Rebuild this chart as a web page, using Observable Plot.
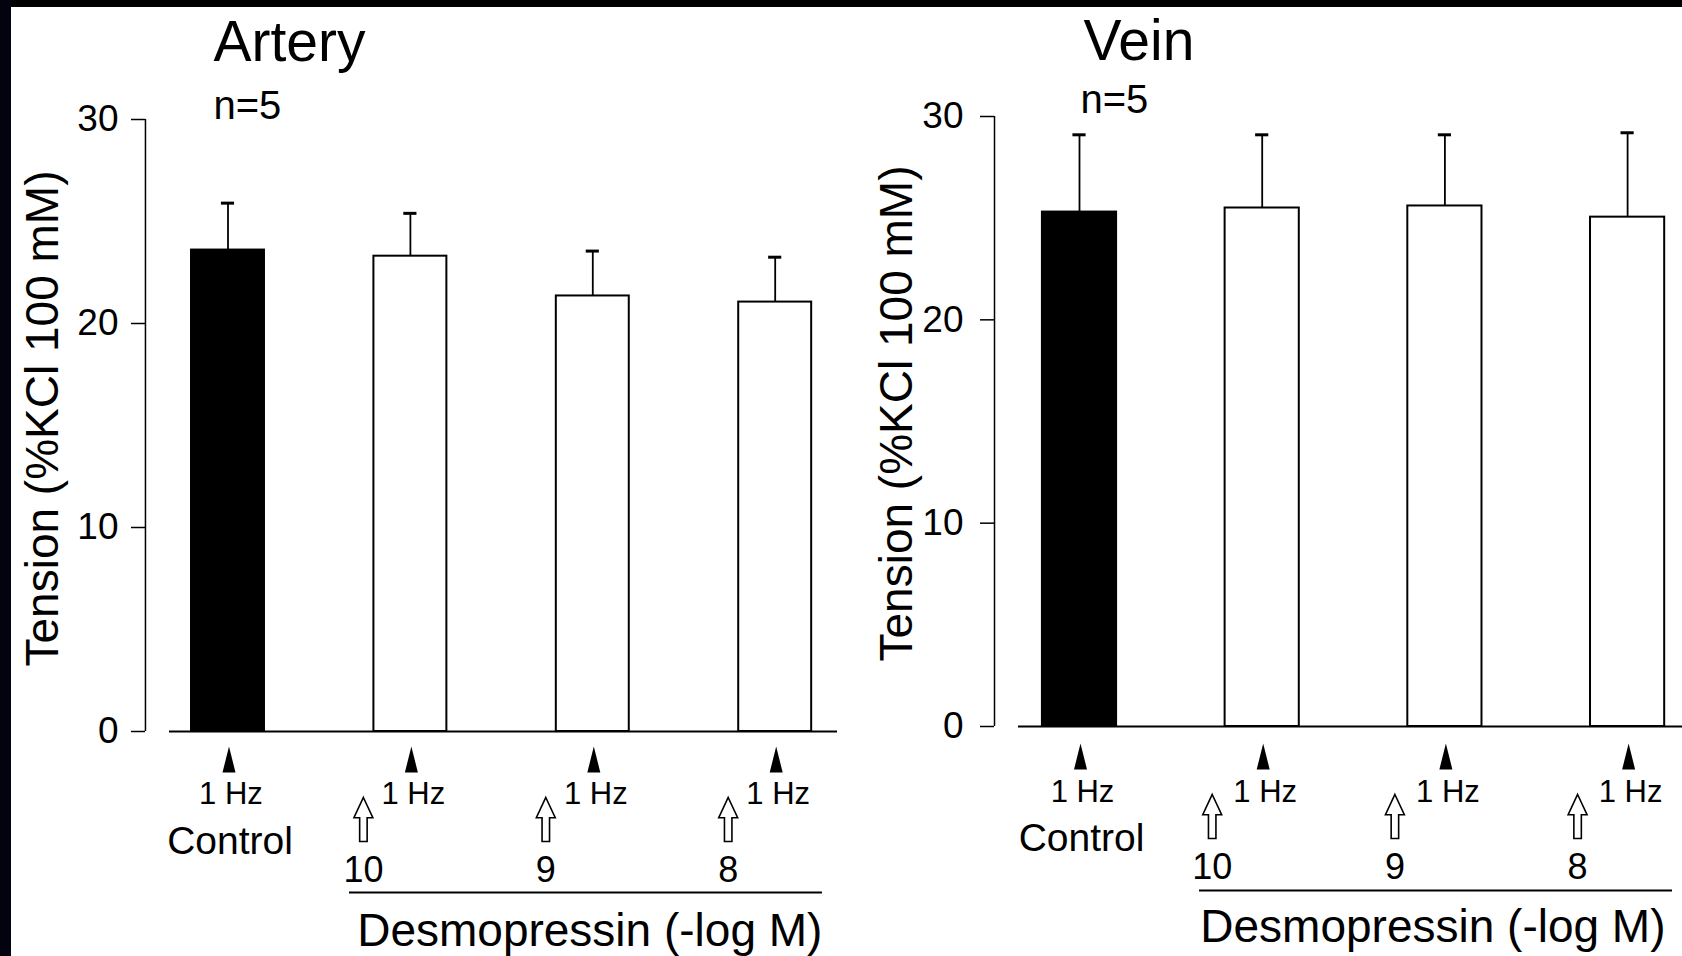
<!DOCTYPE html>
<html><head><meta charset="utf-8">
<script src="https://cdn.jsdelivr.net/npm/d3@7"></script>
<script src="https://cdn.jsdelivr.net/npm/@observablehq/plot@0.6"></script>
<style>
html,body{margin:0;padding:0;background:#fff;}
#wrap{position:relative;width:1682px;height:956px;overflow:hidden;background:#fff;}
#wrap .panel{position:absolute;top:0;}
.topbar{position:absolute;left:0;top:0;width:1682px;height:7px;background:#000;z-index:2}
.leftbar{position:absolute;left:0;top:0;width:11px;height:956px;background:#03030f;z-index:2}
</style></head><body>
<div id="wrap"><div class="topbar"></div><div class="leftbar"></div></div>
<script>
// ---- data ----
const categories = ["Control", "10", "9", "8"];
const arteryMean = [23.6, 23.3, 21.35, 21.05];
const arterySEM  = [2.3, 2.1, 2.2, 2.2];
const veinMean   = [25.3, 25.5, 25.6, 25.05];
const veinSEM    = [3.8, 3.6, 3.5, 4.15];
const yTicks = [0, 10, 20, 30];
const panelTitles = ["Artery", "Vein"];
const nLabel = "n=5";
const stimLabel = "1 Hz";
const drugLabel = "Desmopressin (-log M)";
const yLabel = "Tension (%KCl 100 mM)";

const FONT = "'Liberation Sans', Arial, Helvetica, sans-serif";

// narrow filled triangle (stimulation marker)
const triSym = {draw(ctx, size) {
  const r = Math.sqrt(size / Math.PI);
  ctx.moveTo(0, -r); ctx.lineTo(r * 0.5, r); ctx.lineTo(-r * 0.5, r); ctx.closePath();
}};
// hollow upward arrow (drug addition)
const arrowSym = {draw(ctx, size) {
  const r = Math.sqrt(size / Math.PI);
  const hh = 0.92 * r, hw = 0.43 * r, sw = 0.17 * r;
  ctx.moveTo(0, -r); ctx.lineTo(hw, -r + hh); ctx.lineTo(sw, -r + hh); ctx.lineTo(sw, r);
  ctx.lineTo(-sw, r); ctx.lineTo(-sw, -r + hh); ctx.lineTo(-hw, -r + hh); ctx.closePath();
}};

function makePanel(title, means, sems, L) {
  const rows = categories.map((c, i) => ({cat: c, i, mean: means[i], top: means[i] + sems[i], control: i === 0}));
  const ctrl = rows.filter(d => d.control);
  const drugs = rows.filter(d => !d.control);
  const hw = L.barHalf;
  return Plot.plot({
    width: 841, height: 956,
    marginTop: L.top, marginBottom: 956 - L.zero, marginLeft: L.left, marginRight: L.right,
    x: {domain: L.xdom, axis: null},
    y: {domain: [0, 30]},
    style: {fontFamily: FONT, background: "transparent", color: "black", overflow: "visible"},
    marks: [
      Plot.ruleY([0], {stroke: "black", strokeWidth: 2}),
      Plot.ruleX([L.axisX], {y1: 0, y2: 30, stroke: "black", strokeWidth: 1.5}),
      Plot.axisY({ticks: yTicks, tickSize: 14, tickPadding: L.tickPad, dx: L.axisDx, fontSize: 37, label: null, stroke: "black", strokeWidth: 1.5, fill: "black"}),
      Plot.rect(ctrl, {x1: d => d.i - hw, x2: d => d.i + hw, y1: d => 0, y2: "mean", fill: "black", stroke: "black", strokeWidth: 2}),
      Plot.rect(drugs, {x1: d => d.i - hw, x2: d => d.i + hw, y1: d => 0, y2: "mean", fill: "white", stroke: "black", strokeWidth: 2}),
      Plot.ruleX(rows, {x: "i", y1: "mean", y2: "top", stroke: "black", strokeWidth: 1.8}),
      Plot.ruleY(rows, {y: "top", x1: d => d.i - L.capHalf, x2: d => d.i + L.capHalf, stroke: "black", strokeWidth: 3}),
      // stimulation markers
      Plot.dot(rows, {x: "i", y: d => 0, dx: 1, dy: L.triDy, r: 13, symbol: triSym, fill: "black", stroke: "none"}),
      Plot.text(rows, {x: "i", y: d => 0, text: d => stimLabel, dx: 3, dy: L.hzDy, fontSize: 31, lineAnchor: "bottom", fill: "black"}),
      Plot.text(ctrl, {x: "i", y: d => 0, text: "cat", dx: 2, dy: L.ctrlDy, fontSize: 39, lineAnchor: "bottom", fill: "black"}),
      // drug additions
      Plot.dot(drugs, {x: "i", y: d => 0, dx: L.arrowDx, dy: L.arrowDy, r: 22, symbol: arrowSym, fill: "white", stroke: "black", strokeWidth: 1.6}),
      Plot.text(drugs, {x: "i", y: d => 0, text: "cat", dx: L.arrowDx, dy: L.numDy, fontSize: 36, lineAnchor: "bottom", fill: "black"}),
      Plot.ruleY([0], {x1: L.ulX[0], x2: L.ulX[1], dy: L.ulDy, stroke: "black", strokeWidth: 2}),
      Plot.text([drugLabel], {x: d => 2, y: d => 0, text: d => d, dx: L.desDx, dy: L.desDy, fontSize: 46, lineAnchor: "bottom", fill: "black"}),
      // titles
      Plot.text([title], {text: d => d, frameAnchor: "top-left", textAnchor: "start", lineAnchor: "bottom", dx: L.titleDx, dy: L.titleDy, fontSize: 57, fill: "black"}),
      Plot.text([nLabel], {text: d => d, frameAnchor: "top-left", textAnchor: "start", lineAnchor: "bottom", dx: L.nDx, dy: L.nDy, fontSize: 40, fill: "black"}),
      Plot.text([yLabel], {text: d => d, frameAnchor: "left", textAnchor: "middle", lineAnchor: "middle", rotate: -90, dx: L.ylabDx, dy: L.ylabDy, fontSize: 46, fill: "black"})
    ]
  });
}

const layoutLeft = {
  top: 119, zero: 731, left: 169, right: 4, xdom: [-0.3207, 3.3416], axisX: -0.4525, axisDx: -24, tickPad: 13,
  barHalf: 0.2, capHalf: 0.036,
  triDy: 28, hzDy: 72, ctrlDy: 122, arrowDx: -47, arrowDy: 88, numDy: 150, ulX: [0.666, 3.259], ulDy: 161,
  desDx: -3, desDy: 214, titleDx: 44, titleDy: -59, nDx: 44, nDy: -1, ylabDx: -126, ylabDy: -7
};
const layoutRight = {
  top: 116, zero: 726, left: 177, right: 0, xdom: [-0.3339, 3.3005], axisX: -0.4652, axisDx: -24, tickPad: 17,
  barHalf: 0.203, capHalf: 0.036,
  triDy: 30, hzDy: 75, ctrlDy: 124, arrowDx: -50, arrowDy: 90, numDy: 152, ulX: [0.657, 3.246], ulDy: 164,
  desDx: -12, desDy: 215, titleDx: 65, titleDy: -57, nDx: 62, nDy: -4, ylabDx: -121, ylabDy: -8
};

const wrap = document.getElementById("wrap");
const p1 = makePanel(panelTitles[0], arteryMean, arterySEM, layoutLeft);
const p2 = makePanel(panelTitles[1], veinMean, veinSEM, layoutRight);
p1.classList.add("panel"); p2.classList.add("panel");
p1.style.left = "0px"; p2.style.left = "841px";
wrap.appendChild(p1); wrap.appendChild(p2);
</script>
</body></html>
